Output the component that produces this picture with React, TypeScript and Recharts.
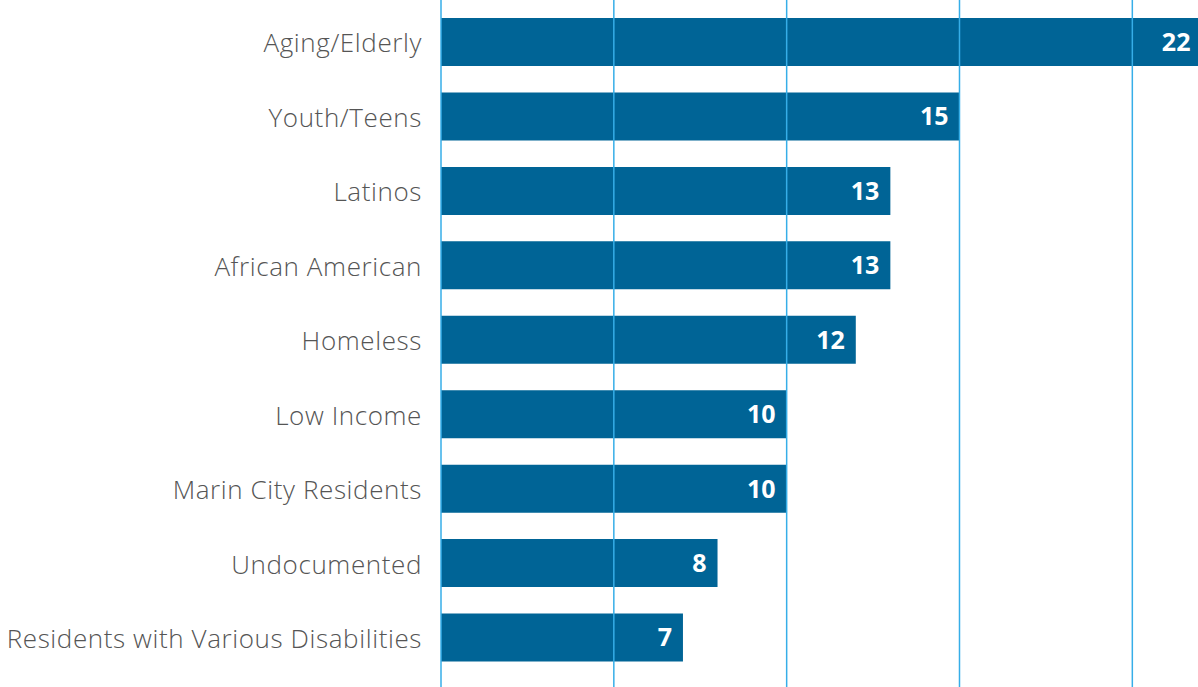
import React from "react";
import { BarChart, Bar, XAxis, YAxis, ReferenceLine, LabelList } from "recharts";

const categories = [
  "Aging/Elderly",
  "Youth/Teens",
  "Latinos",
  "African American",
  "Homeless",
  "Low Income",
  "Marin City Residents",
  "Undocumented",
  "Residents with Various Disabilities",
];
const counts = [22, 15, 13, 13, 12, 10, 10, 8, 7];
const gridValues = [5, 10, 15, 20];

const data = categories.map((name, i) => ({ name, value: counts[i] }));

const BAR = "#006496";
const GRID = "#36aee8";

export default function App() {
  return (
    <div style={{ position: "absolute", left: 0, top: 0, background: "#fff" }}>
      <BarChart
        width={1198}
        height={687}
        data={data}
        layout="vertical"
        margin={{ top: 0, right: 0, bottom: 0, left: 0 }}
        barSize={48}
      >
        <XAxis type="number" domain={[0, 21.9]} hide allowDataOverflow />
        <YAxis
          type="category"
          dataKey="name"
          width={441}
          tickLine={false}
          tickSize={0}
          tickMargin={19}
          axisLine={{ stroke: GRID, strokeWidth: 1.5 }}
          padding={{ top: 5, bottom: 12 }}
          tick={{ fill: "#555555", fontSize: 26, fontFamily: "Open Sans", fontWeight: 300, letterSpacing: 0.6, dy: 1 }}
          interval={0}
        />
        {gridValues.map((v) => (
          <ReferenceLine key={v} x={v} stroke={GRID} strokeWidth={1.5} />
        ))}
        <Bar dataKey="value" fill={BAR} isAnimationActive={false}>
          <LabelList
            dataKey="value"
            position="insideRight"
            offset={11}
            fill="#ffffff"
            style={{ fontSize: 25, fontWeight: 700, fontFamily: "Open Sans" }}
          />
        </Bar>
      </BarChart>
    </div>
  );
}
